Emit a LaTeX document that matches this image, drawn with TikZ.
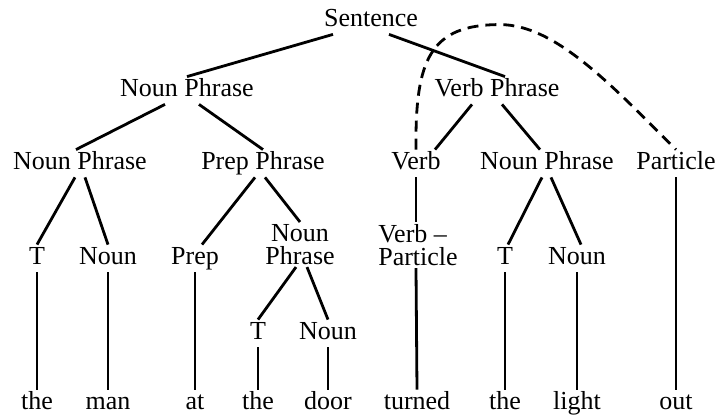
\documentclass[tikz,border=0pt]{standalone}
\usepackage{fontspec}
\setmainfont{Liberation Serif}
\tikzset{
every node/.style={font=\fontsize{13}{11.5}\selectfont, inner xsep=1pt, inner ysep=1pt},
word/.style={anchor=base, text height=9pt, text depth=2.5pt},
twoline/.style={anchor=north, align=center},
branch/.style={line width=1.4pt},
link/.style={line width=1.4pt, dash pattern=on 5.5pt off 3.5pt},
}

\begin{document}
\begin{tikzpicture}[x=0.5pt, y=-0.5pt]
            \useasboundingbox (0,0) rectangle (719,415);
            % phrase levels
            \node[word] (s) at (371,27) {Sentence};
            \node[word] (np) at (187,97) {Noun Phrase};
            \node[word] (vp) at (497,97) {Verb Phrase};
            \node[word] (npl) at (80,170) {Noun Phrase};
            \node[word] (pp) at (263,170) {Prep Phrase};
            \node[word] (verb) at (416,170) {Verb};
            \node[word] (npr) at (547,170) {Noun Phrase};
            \node[word] (part) at (676,170) {Particle};
            \node[word] (t1) at (37,265) {T};
            \node[word] (n1) at (108,265) {Noun};
            \node[word] (prep) at (195,265) {Prep};
            \node[twoline] (np2) at (300,222) {Noun\\Phrase};
            \node[twoline, align=left] (vpart) at (418,222) {Verb --\\Particle};
            \node[word] (t3) at (505,265) {T};
            \node[word] (n3) at (577,265) {Noun};
            \node[word] (t2) at (258,340) {T};
            \node[word] (n2) at (328,340) {Noun};
            % the words
            \node[word] (w1) at (37,410) {the};
            \node[word] (w2) at (108,410) {man};
            \node[word] (w3) at (195,410) {at};
            \node[word] (w4) at (258,410) {the};
            \node[word] (w5) at (328,410) {door};
            \node[word] (w6) at (417,410) {turned};
            \node[word] (w7) at (505,410) {the};
            \node[word] (w8) at (577,410) {light};
            \node[word] (w9) at (676,410) {out};
            % branches
            \draw[branch] ([xshift=-19pt]s.south) -- (np.north);
            \draw[branch] ([xshift=9pt]s.south) -- ([xshift=4pt]vp.north);
            \draw[branch] ([xshift=-11pt]np.south) -- ([xshift=-2pt]npl.north);
            \draw[branch] ([xshift=6pt]np.south) -- (pp.north);
            \draw[branch] ([xshift=-2.5pt]npl.south) -- (t1.north);
            \draw[branch] ([xshift=2.5pt]npl.south) -- (n1.north);
            \draw[branch] ([xshift=-4pt]pp.south) -- ([xshift=3.5pt]prep.north);
            \draw[branch] ([xshift=1pt]pp.south) -- (np2.north);
            \draw[branch] ([xshift=-2pt]np2.south) -- (t2.north);
            \draw[branch] ([xshift=3.5pt]np2.south) -- (n2.north);
            \draw[branch] ([xshift=-12.5pt]vp.south) -- ([xshift=9.5pt]verb.north);
            \draw[branch] ([xshift=2.5pt]vp.south) -- ([xshift=-3.5pt]npr.north);
            \draw[branch] ([xshift=-2.5pt]npr.south) -- ([xshift=1.5pt]t3.north);
            \draw[branch] ([xshift=2pt]npr.south) -- ([xshift=2pt]n3.north);
            \draw[branch] (t1) -- (w1);
            \draw[branch] (n1) -- (w2);
            \draw[branch] (prep) -- (w3);
            \draw[branch] (t2) -- (w4);
            \draw[branch] (n2) -- (w5);
            \draw[branch] (verb.south) -- ([xshift=-1pt]vpart.north);
            \draw[branch] ([xshift=-1pt]vpart.south) -- (w6.north);
            \draw[branch] (t3) -- (w7);
            \draw[branch] (n3) -- (w8);
            \draw[branch] (part) -- (w9);
            % verb to particle
            \draw[link] (verb.north) .. controls +(-1,-90) and +(-70,0) .. ++(84,-125)
                .. controls +(55,0) and +(-65,-65) .. (part.north);
        \end{tikzpicture}
\end{document}
